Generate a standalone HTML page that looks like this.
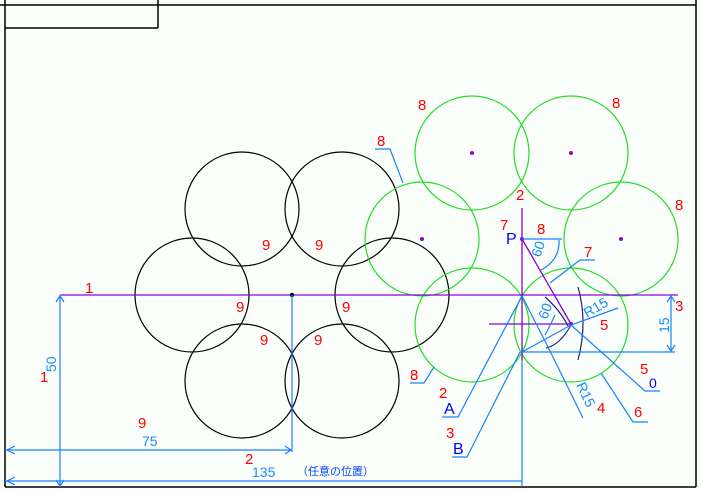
<!DOCTYPE html>
<html><head><meta charset="utf-8"><style>
html,body{margin:0;padding:0;background:#fbfffb;}
svg{display:block;font-family:"Liberation Sans","Noto Sans CJK JP",sans-serif;}
.r{fill:#f00;font-size:15px}
.b{fill:#1a8cff;font-size:14px}
.d{fill:#00f;font-size:16px}
</style></head><body>
<svg width="701" height="490" viewBox="0 0 701 490" xmlns="http://www.w3.org/2000/svg">
<rect width="701" height="490" fill="#fbfffb"/>
<g stroke="#000" stroke-width="1.5" fill="none">
<line x1="0" y1="5" x2="696" y2="5"/>
<line x1="5" y1="0" x2="5" y2="487"/>
<line x1="696" y1="0" x2="696" y2="487"/>
<line x1="5" y1="487" x2="696" y2="487"/>
<line x1="158" y1="0" x2="158" y2="28"/>
<line x1="5" y1="28" x2="158" y2="28"/>
</g>
<g stroke="#000" stroke-width="1.2" fill="none">
<circle cx="192" cy="295" r="57"/><circle cx="392" cy="295" r="57"/>
<circle cx="242" cy="209" r="57"/><circle cx="342" cy="209" r="57"/>
<circle cx="242" cy="381" r="57"/><circle cx="342" cy="381" r="57"/>
</g>
<g stroke="#22dd22" stroke-width="1.2" fill="none">
<circle cx="472" cy="153" r="57"/><circle cx="571" cy="153" r="57"/>
<circle cx="422" cy="239" r="57"/><circle cx="621" cy="239" r="57"/>
<circle cx="472" cy="325" r="57"/><circle cx="571" cy="325" r="57"/>
</g>
<g fill="#9900cc"><circle cx="472" cy="153" r="2"/><circle cx="571" cy="153" r="2"/><circle cx="422" cy="239" r="2"/><circle cx="621" cy="239" r="2"/><circle cx="522" cy="239" r="2"/><circle cx="571" cy="324" r="2"/></g>
<g stroke="#8a00dd" stroke-width="1.3" fill="none">
<line x1="60" y1="295" x2="678" y2="295"/>
<line x1="522" y1="208" x2="522" y2="360"/>
<line x1="489" y1="324" x2="570" y2="324"/>
<line x1="522" y1="239" x2="571" y2="324"/>
</g>
<path d="M578 287 Q588 322 578 360" stroke="#202080" fill="none" stroke-width="1.2"/>
<path d="M545 297 Q560 310 568 326 M571 325 Q560 345 546 348" stroke="#202080" fill="none" stroke-width="1.2"/>
<circle cx="292" cy="295" r="2.2" fill="#000"/>
<g stroke="#1a7fff" stroke-width="1.2" fill="none">
<line x1="292" y1="295" x2="292" y2="452"/>
<line x1="5" y1="450" x2="292" y2="450"/>
<line x1="5" y1="481" x2="522" y2="481"/>
<line x1="60" y1="295" x2="60" y2="487"/>
<line x1="522" y1="360" x2="522" y2="487"/>
<line x1="522" y1="352" x2="675" y2="352"/>
<line x1="671" y1="296" x2="671" y2="351"/>
<line x1="522" y1="239" x2="562" y2="239"/>
<polyline points="442,417 458,417 522,296"/>
<polyline points="452,457 467,457 520,352"/>
<polyline points="410,383 424,383 434,367"/>
<polyline points="648,422 633,422 601,373"/>
<polyline points="660,391 645,391 571,325"/>
<polyline points="583,418 547,345 522,296"/>
<polyline points="522,352 571,325 618,308"/>
<polyline points="595,260 580,260 550,283"/>
<polyline points="375,149 390,149 403,183"/>
<path d="M559 240 Q560 260 541 270"/>
<path d="M555 315 Q548 330 545 335"/>
<path d="M15 446 L7 450 L15 454 M15 477 L7 481 L15 485 M285 446 L291 450 L285 454 M56 302 L60 296 L64 302 M56 480 L60 486 L64 480 M667 302 L671 296 L675 302 M667 345 L671 351 L675 345"/>
</g>
<g class="r">
<text x="85" y="293">1</text><text x="40" y="382">1</text>
<text x="138" y="428">9</text><text x="245" y="464">2</text>
<text x="262" y="250">9</text><text x="315" y="250">9</text>
<text x="236" y="312">9</text><text x="342" y="312">9</text>
<text x="260" y="345">9</text><text x="314" y="345">9</text>
<text x="418" y="110">8</text><text x="612" y="108">8</text>
<text x="377" y="146">8</text><text x="675" y="210">8</text>
<text x="410" y="380">8</text><text x="537" y="234">8</text>
<text x="516" y="200">2</text><text x="500" y="230">7</text>
<text x="584" y="257">7</text><text x="675" y="311">3</text>
<text x="600" y="330">5</text><text x="640" y="374">5</text>
<text x="597" y="413">4</text><text x="634" y="417">6</text>
<text x="439" y="398">2</text><text x="446" y="438">3</text>
</g>
<g class="b">
<text x="142" y="446">75</text><text x="252" y="477">135</text>
<text x="297" y="475" font-size="11" fill="#0044ff">（任意の位置）</text>
<text transform="translate(56,372) rotate(-90)">50</text>
<text transform="translate(669,333) rotate(-90)">15</text>
<text transform="translate(587,318) rotate(-30)">R15</text>
<text transform="translate(576,385) rotate(65)">R15</text>
<text transform="translate(540,258) rotate(-70)">60</text>
<text transform="translate(547,320) rotate(-70)">60</text>
</g>
<g class="d">
<text x="506" y="244">P</text><text x="444" y="414">A</text><text x="453" y="454">B</text><text x="649" y="388" font-size="14">0</text>
</g>
</svg>
</body></html>
